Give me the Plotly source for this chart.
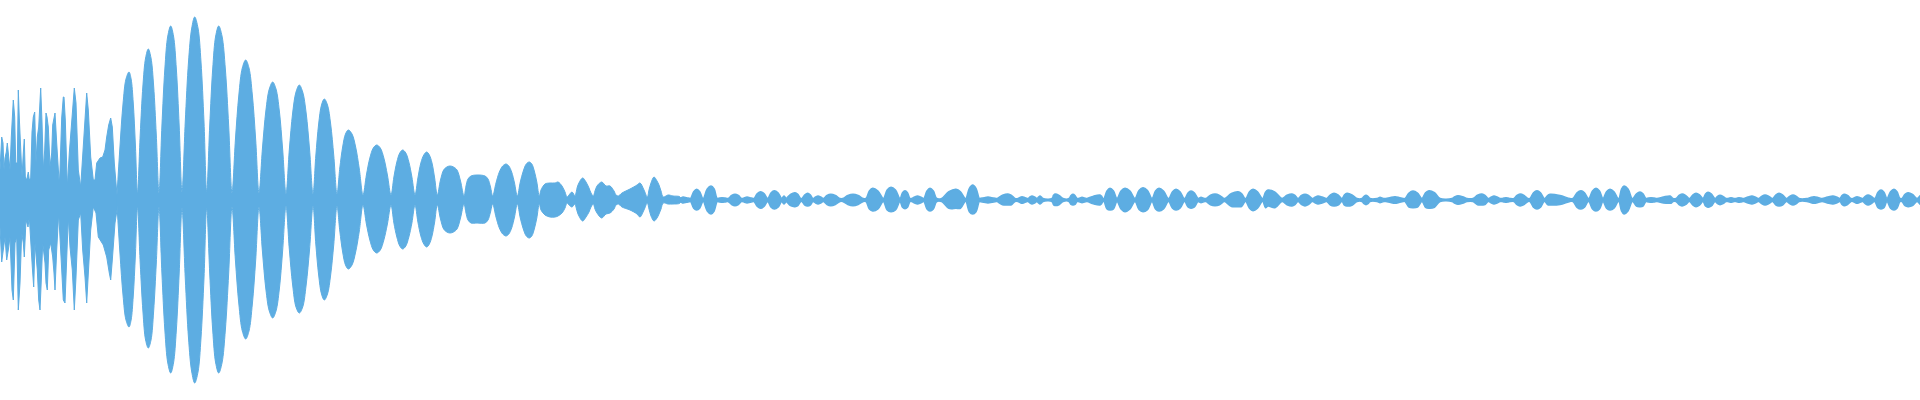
import plotly.graph_objects as go

# ---------------- data (amplitude in display units, full scale = 200) ----------------
# Dense transient at the start: envelope peaks (upper / lower)
spike_top_x = [0, 1.7, 3, 4, 5, 6.3, 7.3, 8.7, 10, 11.3, 12.3, 13.3, 14.7, 15.7, 17.3, 18.3, 19.3, 20.7,
               22, 23.3, 24.3, 25.3, 26.7, 28.3, 29.3, 30.7, 32, 33.3, 34.7, 36, 37.3, 38.7, 39.7, 40.7,
               42, 43.3, 44.7, 46, 47, 48.3, 50, 51.7, 52.7, 54, 55, 56.7, 58, 59.3, 60, 61.7, 63.3, 64,
               65.3, 67.3, 69.3, 71.7, 73.3, 74.3, 76, 78.3, 80.7, 82.7, 85, 86.7, 88.3, 90.7, 93.3, 95,
               96.7, 98.3, 100, 102.7, 105, 106.7, 108.7, 110.7, 112.3, 114.3, 117]
spike_top = [30, 63, 57, 30, 42, 48, 57, 40, 30, 63, 92, 100, 83, 37, 37, 110, 82, 57,
             23, 47, 61, 23, 20, 28, 20, 22, 68, 83, 88, 37, 63, 73, 98, 112,
             78, 30, 50, 87, 83, 73, 33, 47, 75, 82, 87, 57, 33, 15, 30, 82, 103, 103,
             80, 13, 47, 80, 103, 112, 97, 30, 13, 47, 90, 107, 90, 43, 20, 20,
             37, 40, 42, 43, 50, 63, 75, 82, 73, 37, 5]
spike_bot_x = [0, 1.7, 3, 5, 6.7, 8.3, 10, 12, 13.3, 15, 16.7, 18.3, 20, 21.7, 23.3, 24.3, 26, 28, 29.3,
               30.7, 32.3, 33.7, 35, 37.3, 38.7, 40, 41.3, 42.7, 45, 46, 47.3, 48.7, 50.7, 52.7, 54, 55,
               56.7, 58.7, 60, 61.7, 63.3, 65, 66.7, 68.3, 70, 72.3, 74.3, 76, 78.3, 80.7, 82.7, 85,
               86.7, 88.3, 90.7, 93.3, 96, 98.3, 100, 103.3, 106.7, 109.3, 110.7, 112.3, 115, 117]
spike_bot = [-27, -62, -55, -37, -60, -50, -37, -90, -100, -43, -37, -110, -83, -33, -43, -57, -20, -27, -17,
             -37, -67, -87, -43, -70, -100, -110, -80, -43, -63, -83, -90, -50, -43, -57, -73, -90,
             -50, -13, -27, -70, -100, -103, -63, -17, -47, -70, -110, -77, -20, -13, -50, -77,
             -103, -77, -30, -7, -13, -37, -40, -45, -57, -73, -80, -60, -23, -10]

# Main body: decaying beating lobes, envelope read every ~1/8 lobe
body_x = [117, 120, 123, 126, 129, 131.1, 133.25, 135.4,
          137.5, 140.2, 142.9, 145.6, 148.3, 151, 153.65, 156.3,
          159, 161.9, 164.85, 167.8, 170.7, 173.5, 176.35, 179.2,
          182, 185.25, 188.5, 191.75, 194.7, 198, 201, 204,
          206.7, 209.7, 212.7, 215.7, 218.7, 222, 225.35, 228.7,
          232, 235.4, 238.85, 242.3, 245.7, 249, 252.35, 255.7,
          259, 262.4, 265.85, 269.3, 272.7, 276, 279.35, 282.7,
          286, 289.3, 292.65, 296, 299.3, 302.7, 306.15, 309.6,
          313, 315.8, 318.65, 321.5, 324.3, 327.5, 330.65, 333.8,
          337, 339.8, 342.65, 345.5, 348.3, 352, 355.65, 359.3,
          363, 366.4, 369.85, 373.3, 376.7, 380.3, 383.85, 387.4,
          391, 393.9, 396.85, 399.8, 402.7, 405.8, 408.85, 411.9,
          415, 417.9, 420.85, 423.8, 426.7, 429.35, 432, 434.65,
          437.3, 440.5, 443.65, 446.8, 450, 453.5, 457, 460.5,
          464, 466, 468, 471, 477, 485, 488, 490.5,
          492.7, 496, 499.35, 502.7, 506, 508.8, 511.65, 514.5,
          517.3, 520.3, 523.3, 526.3, 529.3, 531.8, 534.3, 536.8,
          539.3, 541, 545, 550, 555, 558, 562, 565,
          567, 569, 572, 575, 576, 578, 582.7, 586, 589, 591,
          593.3, 595, 597, 601.7, 606, 610, 614, 616,
          618.3, 622, 630, 637, 640, 644,
          647.3, 649, 651, 654, 657, 659, 661,
          663.3, 668, 673, 680]
body_top = [5, 54, 96, 121, 128, 121, 97, 55,
            7, 65, 114, 142, 151, 142, 114, 65,
            7, 74, 131, 164, 174, 164, 131, 74,
            8, 78, 138, 172, 183, 172, 138, 78,
            8, 74, 131, 164, 174, 164, 131, 74,
            7, 60, 105, 132, 140, 132, 105, 60,
            7, 51, 89, 111, 118, 111, 89, 50,
            6, 50, 87, 108, 115, 108, 87, 50,
            6, 44, 76, 95, 101, 95, 76, 44,
            6, 32, 53, 66, 70, 66, 53, 31,
            5, 25, 42, 52, 55, 52, 42, 25,
            5, 23, 38, 47, 50, 47, 38, 23,
            5, 22, 37, 45, 48, 45, 37, 22,
            5, 20, 30, 33, 34, 33, 30, 19,
            4, 14, 21, 24, 25, 24, 21, 13,
            4, 17, 28, 34, 36, 34, 28, 17,
            4, 18, 29, 36, 38, 36, 29, 18,
            4, 10, 16, 17, 17, 18, 14, 8,
            3, 5, 8, 4, 7, 15, 22, 18, 12, 7,
            4, 9, 14, 18, 14, 14, 9, 5,
            4, 7, 11, 15, 17, 10,
            3, 10, 17, 23, 19, 15, 9,
            3, 5, 4, 3]
body_bot = [-5, -54, -95, -120, -127, -120, -96, -55,
            -7, -63, -111, -140, -148, -140, -111, -63,
            -7, -73, -130, -163, -173, -163, -130, -73,
            -8, -78, -138, -172, -183, -172, -138, -78,
            -8, -73, -130, -163, -173, -163, -130, -73,
            -7, -60, -104, -131, -139, -131, -104, -60,
            -7, -51, -89, -111, -118, -111, -89, -50,
            -6, -49, -85, -107, -113, -107, -85, -49,
            -6, -44, -75, -94, -100, -94, -75, -44,
            -6, -31, -52, -65, -69, -65, -52, -31,
            -5, -24, -40, -50, -53, -50, -40, -24,
            -5, -23, -37, -46, -49, -46, -37, -23,
            -5, -22, -36, -44, -47, -44, -36, -22,
            -5, -19, -29, -32, -33, -32, -29, -18,
            -4, -13, -20, -23, -23, -23, -20, -12,
            -4, -17, -28, -34, -36, -34, -28, -17,
            -4, -18, -29, -36, -38, -36, -29, -18,
            -4, -10, -15, -17, -17, -16, -13, -8,
            -3, -5, -7, -4, -7, -14, -21, -17, -12, -7,
            -4, -9, -13, -18, -14, -13, -9, -5,
            -4, -7, -10, -14, -17, -10,
            -3, -9, -16, -21, -18, -14, -9,
            -3, -4, -4, -3]

# Tail: small bursts (start, peak position, end, upper peak, lower peak, level half-way up each flank)
tail_start = [680, 690.7, 703.5, 717.3, 728.3, 742, 754, 768, 782, 786, 802, 813.3, 823.3, 842.7, 866, 883.3,
              900, 911.7, 924, 941.7, 966, 980, 997, 1018, 1028, 1037, 1052, 1069, 1078, 1087, 1104, 1117,
              1135, 1152, 1169, 1185, 1198, 1206, 1225, 1246, 1263, 1282, 1298, 1313, 1327, 1342, 1362,
              1377, 1386, 1405, 1422, 1452, 1473, 1489, 1502, 1514, 1530, 1545, 1573, 1589, 1603, 1619,
              1633, 1646, 1657, 1676, 1690, 1703, 1715, 1728, 1736, 1744, 1759, 1773, 1787, 1807, 1822,
              1840, 1853, 1863, 1875, 1887, 1902, 1917]
tail_peak = [683, 696.7, 711, 722, 735, 747, 760.7, 774.3, 784, 795, 807.7, 818, 830.7, 853, 872.7, 891,
             905, 917.5, 930, 956, 972.7, 988, 1008, 1022, 1032, 1040, 1055, 1073, 1082, 1100, 1110, 1125,
             1143, 1159, 1176, 1191, 1201, 1215, 1238, 1253, 1268, 1292, 1305, 1318, 1334, 1347, 1366,
             1380, 1395, 1413, 1429, 1458, 1482, 1494, 1506, 1520, 1537, 1550, 1581, 1596, 1610, 1624,
             1640, 1651, 1670, 1682, 1696, 1708, 1720, 1731, 1739, 1752, 1765, 1779, 1793, 1814, 1833,
             1844, 1857, 1868, 1881, 1894, 1908, 1924]
tail_end = [690, 702.7, 717.3, 728, 741.7, 753, 767.3, 781.7, 786, 800.7, 812.7, 823.3, 840, 863.3, 883.3, 900,
            910, 923.3, 936.7, 965, 979.3, 996, 1015, 1027, 1037, 1043, 1063, 1077, 1087, 1103, 1117, 1135,
            1152, 1168, 1184, 1198, 1205, 1224, 1245, 1262, 1282, 1298, 1312, 1326, 1342, 1357, 1370,
            1384, 1403, 1422, 1440, 1467, 1488, 1500, 1510, 1528, 1544, 1570, 1588, 1603, 1618, 1632,
            1646, 1657, 1673, 1689, 1703, 1715, 1726, 1734, 1743, 1758, 1772, 1786, 1799, 1822, 1840,
            1851, 1862, 1874, 1887, 1900, 1917, 1930]
tail_top = [3, 10.7, 14, 2.3, 5.7, 3, 8.3, 9.3, 4, 7.3, 6.7, 4, 5.7, 5.7, 11.7, 12.7,
            9.3, 4, 11.7, 10.7, 15, 3, 6, 3.3, 4, 4, 6, 5.7, 2.7, 5, 11.7, 11.7,
            12.3, 11.7, 10.7, 9, 2.7, 6, 8.3, 10.7, 10, 6, 5.7, 4, 6.7, 6.7, 4.7,
            2.7, 3.3, 9, 9.3, 4.3, 6, 4, 2.3, 6, 9.3, 5.7, 9.3, 11.7, 10.7, 14,
            8, 2.3, 4, 6, 6.7, 7.7, 4.7, 2.3, 2.3, 4, 5, 6.7, 5, 3.3, 4,
            5.7, 3.3, 5, 10, 10.7, 7.3, 6]
tail_bot = [-3, -10, -14, -2.3, -5.7, -3, -8.3, -9, -4, -6.7, -6, -4, -5.7, -5.7, -11, -11.7,
            -8.7, -4, -11, -8.3, -14, -3, -5, -3.3, -4, -4, -5.5, -5, -2.7, -5, -10, -11.7,
            -11.7, -11, -10, -8.3, -2.7, -5.7, -6.7, -10.7, -6, -6, -6, -4, -6, -6, -4.7,
            -2.7, -3.3, -7.7, -8.3, -4.3, -5, -4, -2.3, -6, -9, -5, -9, -11, -10, -14,
            -6.7, -2.3, -3.3, -6, -6.7, -7.3, -4.7, -2.3, -2.3, -4, -5, -6, -5, -3.3, -4,
            -5.7, -3.3, -5, -9, -10, -6.7, -6]
tail_flank = [2.3, 8.3, 11, 2, 4.5, 2.3, 6.5, 7.3, 3, 5.7, 5.2, 3, 4.5, 4.5, 9, 10,
              7.3, 3, 9, 8.3, 11.7, 2.3, 4.7, 2.6, 3, 3, 4.7, 4.5, 2.1, 3.9, 9, 9,
              9.6, 9, 8.3, 7, 2.1, 4.7, 6.5, 8.3, 7.8, 4.7, 4.5, 3, 5.2, 5.2, 3.7,
              2.1, 2.6, 7, 7.3, 3.4, 4.7, 3, 2, 4.7, 7.3, 4.5, 7.3, 9, 8.3, 11,
              6.2, 2, 3, 4.7, 5.2, 6, 3.7, 2, 2, 3, 3.9, 5.2, 3.9, 2.6, 3,
              4.5, 2.6, 3.9, 7.8, 8.3, 5.7, 4.7]
noise_floor = 1.5  # residual level between bursts

assert len(spike_top_x) == len(spike_top) and len(spike_bot_x) == len(spike_bot)
assert len(body_x) == len(body_top) == len(body_bot)
assert (len(tail_start) == len(tail_peak) == len(tail_end) == len(tail_top)
        == len(tail_bot) == len(tail_flank))

# ---------------- build tail envelope ----------------
tail_x, tail_up, tail_dn = [], [], []
for s, p, e, t, b, f in zip(tail_start, tail_peak, tail_end, tail_top, tail_bot, tail_flank):
    if not tail_x or s > tail_x[-1] + 0.5:
        tail_x.append(s); tail_up.append(noise_floor); tail_dn.append(-noise_floor)
    tail_x += [(s + p) / 2, p, (p + e) / 2, e]
    tail_up += [f, t, f, noise_floor]
    tail_dn += [-f, b, -f, -noise_floor]

COLOR = "#5DADE2"


def band(xs_top, ys_top, xs_bot, ys_bot, shape, width):
    return go.Scatter(
        x=list(xs_top) + list(xs_bot)[::-1],
        y=list(ys_top) + list(ys_bot)[::-1],
        mode="lines", fill="toself", fillcolor=COLOR,
        line=dict(color=COLOR, width=width, shape=shape),
        hoverinfo="skip", showlegend=False,
    )


fig = go.Figure()
fig.add_trace(band(spike_top_x, spike_top, spike_bot_x, spike_bot, "linear", 1))
fig.add_trace(band(body_x, body_top, body_x, body_bot, "spline", 1))
fig.add_trace(band(tail_x, tail_up, tail_x, tail_dn, "spline", 1.5))

fig.update_layout(
    width=1920, height=400,
    margin=dict(l=0, r=0, t=0, b=0),
    paper_bgcolor="white", plot_bgcolor="white",
    showlegend=False,
    xaxis=dict(range=[0, 1920], visible=False, fixedrange=True),
    yaxis=dict(range=[-200, 200], visible=False, fixedrange=True),
)

fig.write_html("out.html", post_script="document.body.style.margin='0';",
               config={"displayModeBar": False})
